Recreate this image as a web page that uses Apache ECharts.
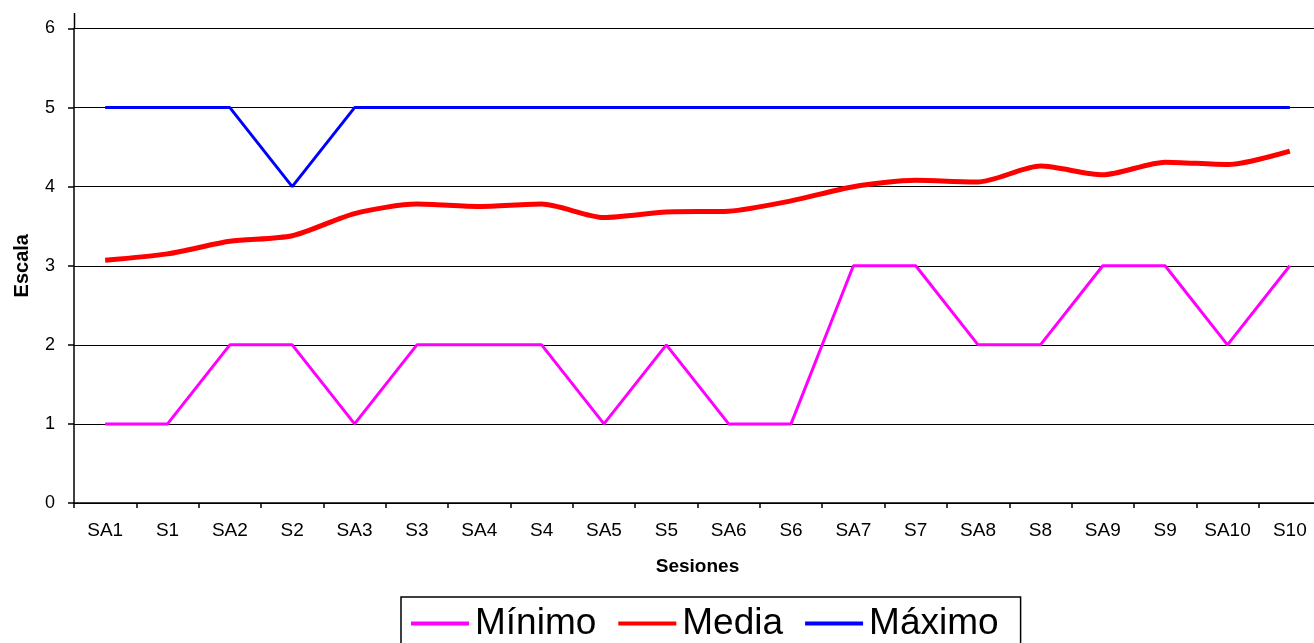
<!DOCTYPE html>
<html><head><meta charset="utf-8">
<script src="https://cdn.jsdelivr.net/npm/echarts@6/dist/echarts.min.js"></script>
<style>html,body{margin:0;padding:0;background:#fff;overflow:hidden}#c{width:1314px;height:643px}</style>
</head><body><div id="c"></div>
<script>
const categories = ['SA1','S1','SA2','S2','SA3','S3','SA4','S4','SA5','S5','SA6','S6','SA7','S7','SA8','S8','SA9','S9','SA10','S10'];
const minimo = [1,1,2,2,1,2,2,2,1,2,1,1,3,3,2,2,3,3,2,3];
const media = [3.07,3.15,3.31,3.38,3.66,3.78,3.75,3.78,3.61,3.68,3.69,3.82,4.0,4.08,4.06,4.26,4.15,4.31,4.28,4.45];
const maximo = [5,5,5,4,5,5,5,5,5,5,5,5,5,5,5,5,5,5,5,5];
const yTicks = [0,1,2,3,4,5,6];

const chart = echarts.init(document.getElementById('c'));
const font = 'Liberation Sans, Arial, sans-serif';
chart.setOption({
  animation: false,
  grid: {left: 74, width: 1247, top: 28.5, height: 474.5, outerBoundsMode: 'none', containLabel: false},
  graphic: [{type:'line', shape:{x1:74.5,y1:13,x2:74.5,y2:29}, style:{stroke:'#000',lineWidth:1.5}}],
  xAxis: {
    type: 'category', data: categories, boundaryGap: true,
    name: 'Sesiones', nameLocation: 'middle', nameGap: 54,
    nameTextStyle: {fontFamily: font, fontWeight: 'bold', fontSize: 19, color: '#000'},
    axisLine: {lineStyle: {color: '#000', width: 1.5}},
    axisTick: {show: true, length: 5, lineStyle: {color: '#000', width: 1.5}},
    axisLabel: {fontFamily: font, fontSize: 19, color: '#000', margin: 18}
  },
  yAxis: {
    type: 'value', min: yTicks[0], max: yTicks[yTicks.length-1], interval: 1,
    name: 'Escala', nameLocation: 'middle', nameGap: 42, nameRotate: 90,
    nameTextStyle: {fontFamily: font, fontWeight: 'bold', fontSize: 20, color: '#000'},
    axisLine: {show: true, lineStyle: {color: '#000', width: 1.5}},
    axisTick: {show: true, length: 6, lineStyle: {color: '#000', width: 1.5}},
    axisLabel: {fontFamily: font, fontSize: 18, color: '#000', margin: 19},
    splitLine: {show: true, lineStyle: {color: '#000', width: 1.2}}
  },
  legend: {
    top: 597, left: 401,
    data: [
      {name: 'Mínimo', icon: 'rect', itemStyle: {color: '#FF00FF'}},
      {name: 'Media', icon: 'rect', itemStyle: {color: '#FF0000'}},
      {name: 'Máximo', icon: 'rect', itemStyle: {color: '#0000FF'}}
    ],
    itemWidth: 58, itemHeight: 4, itemGap: 22,
    borderColor: '#000', borderWidth: 1.5, padding: [8, 22, 10, 10],
    textStyle: {fontFamily: font, fontSize: 37, color: '#000', padding: [0,0,0,1]}
  },
  series: [
    {name: 'Mínimo', type: 'line', data: minimo, symbol: 'none', lineStyle: {color: '#FF00FF', width: 3}, itemStyle: {color: '#FF00FF'}, z: 3},
    {name: 'Media', type: 'line', data: media, symbol: 'none', smooth: 0.25, lineStyle: {color: '#FF0000', width: 5}, itemStyle: {color: '#FF0000'}, z: 4},
    {name: 'Máximo', type: 'line', data: maximo, symbol: 'none', lineStyle: {color: '#0000FF', width: 3}, itemStyle: {color: '#0000FF'}, z: 5}
  ]
});
</script></body></html>
